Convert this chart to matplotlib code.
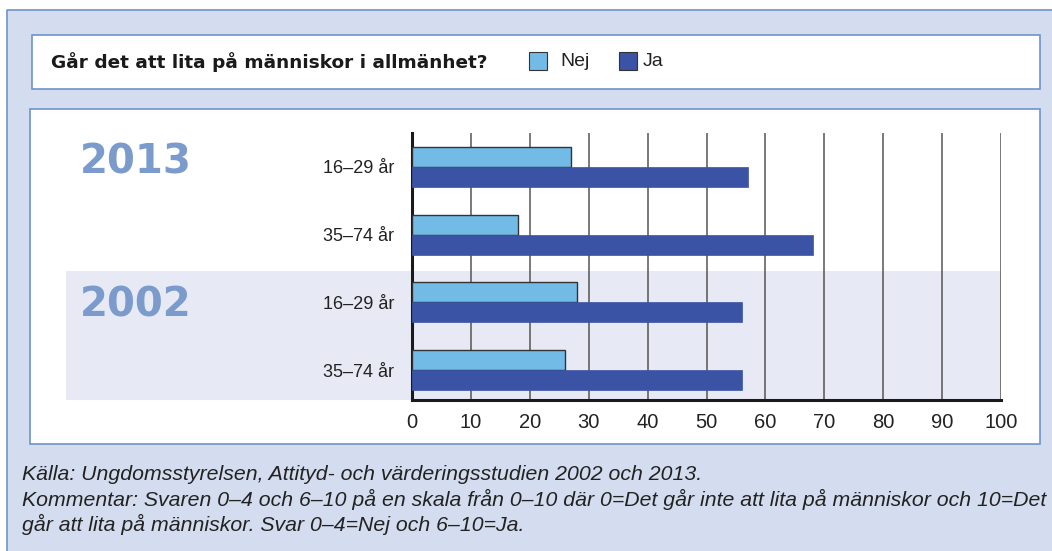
import numpy as np
import matplotlib.pyplot as plt
from matplotlib.patches import Rectangle
from matplotlib.lines import Line2D

# data
groups = ['16–29 år', '35–74 år', '16–29 år', '35–74 år']
years = ['2013', '2002']
nej = [27, 18, 28, 26]
ja = [57, 68, 56, 56]
xticks = [0, 10, 20, 30, 40, 50, 60, 70, 80, 90, 100]

C_NEJ = '#72bbe6'
C_JA = '#3a53a4'
C_BG = '#d4ddef'
C_EDGE = '#6f94c9'
C_SHADE = '#e7eaf4'
C_YEAR = '#7b9bcd'

W, H = 1052, 551
fig = plt.figure(figsize=(W / 100, H / 100), dpi=100)
fig.patch.set_facecolor(C_BG)


def box(x0, y0, x1, y1, **kw):
    # pixel box (top-left origin) -> figure rectangle
    r = Rectangle((x0 / W, 1 - y1 / H), (x1 - x0) / W, (y1 - y0) / H,
                  transform=fig.transFigure, **kw)
    fig.patches.append(r)
    return r


# white margin above and left of the outer panel, panel border on top/left
box(0, 0, W, 10, facecolor='white', edgecolor='none', zorder=-10)
box(0, 0, 7, H, facecolor='white', edgecolor='none', zorder=-10)
fig.lines.append(Line2D([7 / W, 7 / W, 1.0], [0.0, 1 - 10 / H, 1 - 10 / H],
                        transform=fig.transFigure, color=C_EDGE, lw=1.2, zorder=-9.5))
box(31.5, 34.5, 1039.5, 88.5, facecolor='white', edgecolor=C_EDGE, lw=1.2, zorder=-9)
box(30, 109.5, 1039.5, 443.5, facecolor='white', edgecolor=C_EDGE, lw=1.2, zorder=-9)
box(66, 271, 412, 400, facecolor=C_SHADE, edgecolor='none', zorder=-8)

# title and legend
fig.text(51 / W, 1 - 62 / H, 'Går det att lita på människor i allmänhet?',
         family='DejaVu Sans', weight='bold', fontsize=13.3, color='#1a1a1a',
         ha='left', va='center')
box(529, 52.5, 546.5, 69.5, facecolor=C_NEJ, edgecolor='#333333', lw=0.8, zorder=2)
box(619, 52.5, 636.5, 69.5, facecolor=C_JA, edgecolor='#333333', lw=0.8, zorder=2)
fig.text(560 / W, 1 - 61.5 / H, 'Nej', family='Liberation Sans', fontsize=14,
         color='#222222', ha='left', va='center')
fig.text(643 / W, 1 - 61.5 / H, 'Ja', family='Liberation Sans', fontsize=14,
         color='#222222', ha='left', va='center')

# chart
ax = fig.add_axes([412 / W, 1 - 400 / H, 589 / W, 267 / H])
ax.set_facecolor('none')
pos = np.arange(len(groups))
h = 0.295
ax.axhspan(1.532, 3.5, color=C_SHADE, lw=0, zorder=0)
ax.barh(pos - h / 2, nej, height=h, color=C_NEJ, edgecolor='#333333', lw=1.0, zorder=3)
ax.barh(pos + h / 2, ja, height=h, color=C_JA, edgecolor=C_JA, lw=0.5, zorder=3)

ax.set_xlim(0, 100)
ax.set_ylim(3.443, -0.502)
ax.set_xticks(xticks)
ax.set_yticks(pos)
ax.set_yticklabels(groups)
for lab in ax.get_xticklabels():
    lab.set_family('Liberation Sans')
    lab.set_fontsize(14.5)
    lab.set_color('#222222')
for lab in ax.get_yticklabels():
    lab.set_family('Liberation Sans')
    lab.set_fontsize(13)
    lab.set_color('#222222')
ax.tick_params(axis='both', length=0)
ax.tick_params(axis='x', pad=9)
ax.tick_params(axis='y', pad=13)
ax.xaxis.grid(True, color='#555555', lw=1.1, zorder=1)
ax.set_axisbelow(True)
for s in ['top', 'right']:
    ax.spines[s].set_visible(False)
ax.spines['left'].set_linewidth(2.2)
ax.spines['bottom'].set_linewidth(2.2)
ax.spines['left'].set_color('#1a1a1a')
ax.spines['bottom'].set_color('#1a1a1a')

# year labels
for yr, yc in zip(years, [163, 305.5]):
    fig.text(80 / W, 1 - yc / H, yr, family='DejaVu Sans', weight='bold',
             fontsize=29, color=C_YEAR, ha='left', va='center')

# notes
notes = [
    'Källa: Ungdomsstyrelsen, Attityd- och värderingsstudien 2002 och 2013.',
    'Kommentar: Svaren 0–4 och 6–10 på en skala från 0–10 där 0=Det går inte att lita på människor och 10=Det',
    'går att lita på människor. Svar 0–4=Nej och 6–10=Ja.',
]
for i, line in enumerate(notes):
    fig.text(22 / W, 1 - (474 + 25 * i) / H, line, family='Liberation Sans',
             style='italic', fontsize=15.35, color='#222222', ha='left', va='center')

fig.savefig('out.png', dpi=100, facecolor=fig.get_facecolor())
